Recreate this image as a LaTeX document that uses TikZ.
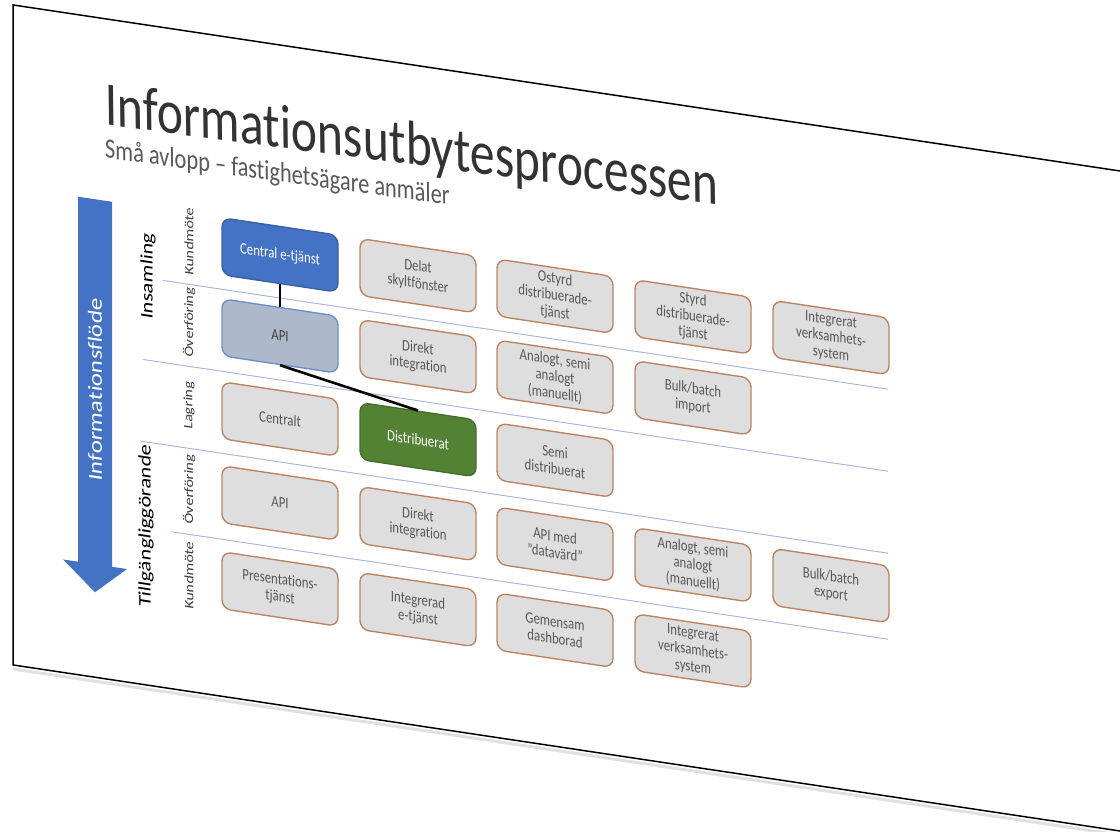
\documentclass[tikz,border=0pt]{standalone}
\usepackage{fontspec}
\setmainfont{Carlito}[Ligatures={NoCommon}]
\usetikzlibrary{positioning}

\definecolor{chosenblue}{HTML}{4472C4}
\definecolor{chosengreen}{HTML}{548235}
\definecolor{apigrey}{HTML}{ADB9CA}
\definecolor{apiedge}{HTML}{6F8FCB}
\definecolor{boxfill}{HTML}{DEDEDE}
\definecolor{boxedge}{HTML}{BC8560}
\definecolor{boxtext}{HTML}{595959}
\definecolor{rowline}{HTML}{9DB5E0}

\begin{document}
\begin{tikzpicture}[x=1pt, y=-1pt,
  optbox/.style={draw=boxedge, fill=boxfill, line width=1.4pt, rounded corners=9pt,
    text=boxtext, align=center, font=\fontsize{16}{17}\selectfont,
    minimum width=145pt, minimum height=57pt, inner sep=2pt},
  centralbox/.style={optbox, draw=chosenblue!85!black, fill=chosenblue, text=white},
  apibox/.style={optbox, draw=apiedge, fill=apigrey, text=black!75},
  distrbox/.style={optbox, draw=chosengreen!85!black, fill=chosengreen, text=white},
  phase/.style={rotate=90, font=\fontsize{22}{24}\selectfont, text=black},
  rowlabel/.style={rotate=90, font=\fontsize{16}{18}\selectfont, text=black!75},
  connector/.style={line width=2.6pt, black},
  rowsep/.style={rowline, line width=0.9pt}]

\useasboundingbox (0,0) rectangle (1120,832);
\fill[white] (0,0) rectangle (1120,832);

% slide seen at an angle: compress x, shear y
\begin{scope}[cm={0.8,-0.12,0,1,(0,0)}, x=1.25pt, transform shape]

% Slide outline
\draw[black!12, line width=3pt] (13,667) -- (1130,667);
\draw[line width=1.5pt] (1130,3) -- (13,3) -- (13,663) -- (1130,663);

% Title
\node[anchor=base west, inner sep=0, rotate=0.9, font=\fontsize{62}{62}\selectfont, text=black!80] (title) at (105,109) {Informationsutbytesprocessen};
\node[anchor=base west, inner sep=0, rotate=0.6, font=\fontsize{28}{28}\selectfont, text=black!65] (subtitle) at (105,142) {Små avlopp – fastighetsägare anmäler};

% Flow arrow
\fill[chosenblue] (78,185) -- (112,185) -- (112,550) -- (127,550) -- (95,578) -- (63,550) -- (78,550) -- cycle;
\node[rotate=90, text=white, font=\fontsize{25}{25}\selectfont] (flow) at (95,375) {Informationsflöde};

% Phases and rows
\node[phase] (insamling) at (148,254) {Insamling};
\node[phase] (tillg) at (146,504) {Tillgängliggörande};
\foreach \nm/\yy/\txt in {kund1/213/Kundmöte, over1/294/Överföring, lagring/377/Lagring, over2/461/Överföring, kund2/547/Kundmöte} {
    \node[rowlabel] (\nm) at (189,\yy) {\txt};
}

% Row separators
\draw[rowsep] (163,256) -- (888,256);
\draw[rowsep] (143,338) -- (888,338);
\draw[rowsep] (140,420) -- (888,420);
\draw[rowsep] (172,506) -- (888,506);

% Chosen path
\node[centralbox] (central) at (280,213) {Central e-tjänst};
\node[apibox] (api) at (280,294) {API};
\node[distrbox] (distr) at (418,377) {Distribuerat};

% Other options
\foreach \nm/\xx/\yy/\txt in {
    delat/418/213/{Delat\\skyltfönster},
    ostyrd/555/213/{Ostyrd\\distribuerade-\\tjänst},
    styrd/693/213/{Styrd\\distribuerade-\\tjänst},
    integrin/831/213/{Integrerat\\verksamhets-\\system},
    direktin/418/294/{Direkt\\integration},
    analogin/555/294/{Analogt, semi\\analogt\\(manuellt)},
    bulkin/693/294/{Bulk/batch\\import},
    centralt/280/377/{Centralt},
    semi/555/377/{Semi\\distribuerat},
    apiut/280/461/{API},
    direktut/418/461/{Direkt\\integration},
    datavard/555/461/{API med\\"datavärd"},
    analogut/693/461/{Analogt, semi\\analogt\\(manuellt)},
    bulkut/831/461/{Bulk/batch\\export},
    present/280/547/{Presentations-\\tjänst},
    integrerad/418/547/{Integrerad\\e-tjänst},
    dashboard/555/547/{Gemensam\\dashborad},
    integrut/693/547/{Integrerat\\verksamhets-\\system}} {
    \node[optbox] (\nm) at (\xx,\yy) {\txt};
}

% Links
\draw[connector] (central.south) -- (api.north);
\draw[connector] (api.south) -- (distr.north);

\end{scope}

\end{tikzpicture}
\end{document}
